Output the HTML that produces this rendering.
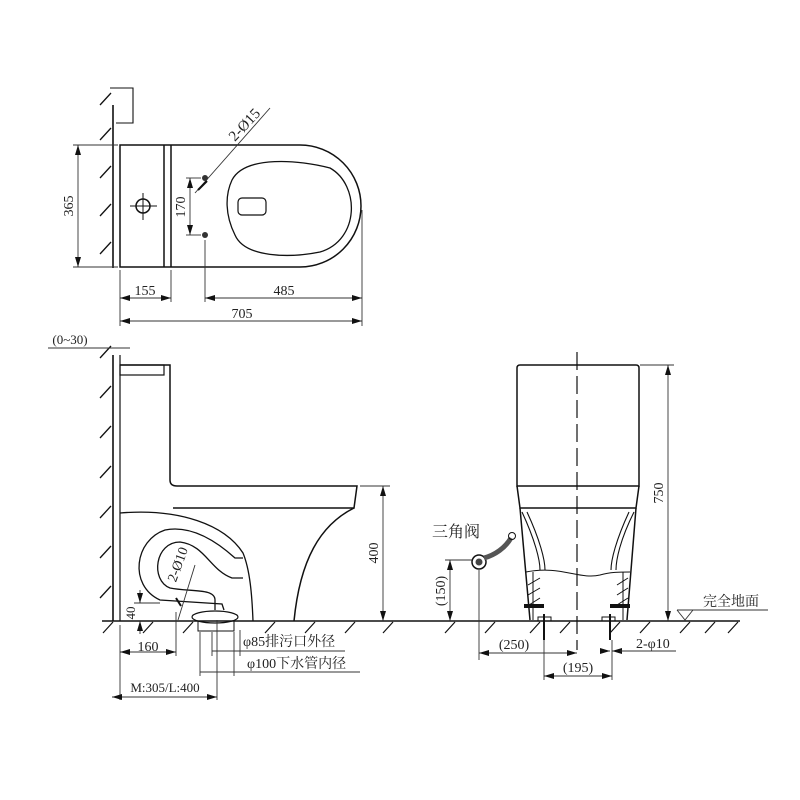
<!DOCTYPE html>
<html><head><meta charset="utf-8"><style>
html,body{margin:0;padding:0;background:#fff;width:800px;height:800px;overflow:hidden}
svg{display:block}
text{font-family:"Liberation Serif","Noto Serif CJK SC",serif;fill:#222}
</style></head><body>
<svg width="800" height="800" viewBox="0 0 800 800" xmlns="http://www.w3.org/2000/svg">
<defs>
<marker id="a" viewBox="0 0 10 6" refX="10" refY="3" markerWidth="10" markerHeight="6" orient="auto-start-reverse" markerUnits="userSpaceOnUse"><path d="M0,0L10,3L0,6z" fill="#111"/></marker>
</defs>
<g stroke="#111" fill="none" stroke-width="1.6">
<line x1="113" y1="105" x2="113" y2="268"/>
<line x1="113" y1="355" x2="113" y2="621"/>
<line x1="120" y1="355" x2="120" y2="621" stroke-width="1.2"/>
</g>
<g stroke="#111" stroke-width="1.3">
<line x1="100" y1="140" x2="111" y2="128"/><line x1="100" y1="178" x2="111" y2="166"/><line x1="100" y1="216" x2="111" y2="204"/><line x1="100" y1="254" x2="111" y2="242"/><line x1="100" y1="105" x2="111" y2="93"/>
<line x1="100" y1="358" x2="111" y2="346"/><line x1="100" y1="398" x2="111" y2="386"/><line x1="100" y1="438" x2="111" y2="426"/><line x1="100" y1="478" x2="111" y2="466"/><line x1="100" y1="518" x2="111" y2="506"/><line x1="100" y1="558" x2="111" y2="546"/><line x1="100" y1="598" x2="111" y2="586"/>
<line x1="102" y1="621" x2="740" y2="621" stroke-width="1.6"/>
</g>
<g stroke="#111" stroke-width="1.2">
<line x1="103" y1="633" x2="113" y2="622"/><line x1="143" y1="633" x2="153" y2="622"/><line x1="183" y1="633" x2="193" y2="622"/><line x1="265" y1="633" x2="275" y2="622"/><line x1="305" y1="633" x2="315" y2="622"/><line x1="345" y1="633" x2="355" y2="622"/><line x1="383" y1="633" x2="393" y2="622"/>
<line x1="445" y1="633" x2="455" y2="622"/><line x1="485" y1="633" x2="495" y2="622"/><line x1="530" y1="633" x2="540" y2="622"/><line x1="560" y1="633" x2="570" y2="622"/><line x1="610" y1="633" x2="620" y2="622"/><line x1="640" y1="633" x2="650" y2="622"/><line x1="680" y1="633" x2="690" y2="622"/><line x1="705" y1="633" x2="715" y2="622"/><line x1="728" y1="633" x2="738" y2="622"/>
</g>
<!-- TOP VIEW -->
<g stroke="#111" fill="none" stroke-width="1.5">
<polyline points="110,88 133,88 133,123 116,123" stroke-width="1.1"/>
<path d="M120,145 H300 A61,61 0 0 1 300,267 H120 Z"/>
<line x1="164" y1="145" x2="164" y2="267"/>
<line x1="171" y1="145" x2="171" y2="267"/>
<path d="M232,180 C245,155 300,160 330,168 C360,185 360,240 320,252 C290,258 245,258 235,235 C225,215 225,195 232,180 Z" stroke-width="1.3"/>
<rect x="238" y="198" width="28" height="17" rx="4" stroke-width="1.2"/>
<circle cx="143" cy="206" r="7"/>
<line x1="130" y1="206" x2="157" y2="206" stroke-width="1"/>
<line x1="143" y1="193" x2="143" y2="220" stroke-width="1"/>
</g>
<circle cx="205" cy="178" r="3" fill="#333"/><circle cx="205" cy="235" r="3" fill="#333"/>
<g stroke="#333" stroke-width="0.9" fill="none">
<line x1="270" y1="108" x2="195" y2="193"/>
<line x1="73" y1="145" x2="118" y2="145"/><line x1="73" y1="267" x2="118" y2="267"/>
<line x1="78" y1="145" x2="78" y2="267" marker-start="url(#a)" marker-end="url(#a)"/>
<line x1="186" y1="178" x2="201" y2="178"/><line x1="186" y1="235" x2="201" y2="235"/>
<line x1="190" y1="178" x2="190" y2="235" marker-start="url(#a)" marker-end="url(#a)"/>
<line x1="120" y1="270" x2="120" y2="326"/><line x1="171" y1="270" x2="171" y2="302"/><line x1="205" y1="240" x2="205" y2="302"/><line x1="362" y1="210" x2="362" y2="326"/>
<line x1="120" y1="298" x2="171" y2="298" marker-start="url(#a)" marker-end="url(#a)"/>
<line x1="205" y1="298" x2="362" y2="298" marker-start="url(#a)" marker-end="url(#a)"/>
<line x1="120" y1="321" x2="362" y2="321" marker-start="url(#a)" marker-end="url(#a)"/>
<line x1="48" y1="348" x2="130" y2="348"/>
</g>
<path d="M198,190 L207,181" stroke="#111" stroke-width="2"/>
<text x="0" y="0" font-size="14" transform="translate(73,206) rotate(-90)" text-anchor="middle">365</text>
<text x="0" y="0" font-size="14" transform="translate(185,207) rotate(-90)" text-anchor="middle">170</text>
<text x="0" y="0" font-size="15" transform="translate(248,128) rotate(-47)" text-anchor="middle">2-Ø15</text>
<text x="145" y="295" font-size="14" text-anchor="middle">155</text>
<text x="284" y="295" font-size="14" text-anchor="middle">485</text>
<text x="242" y="318" font-size="14" text-anchor="middle">705</text>
<text x="70" y="344" font-size="13" text-anchor="middle">(0~30)</text>
<!-- SIDE VIEW -->
<g stroke="#111" fill="none" stroke-width="1.5">
<rect x="120" y="365" width="44" height="10" stroke-width="1.2"/>
<path d="M120,365 H170 V480 Q170,486 177,486 H357 L354,508 H173" />
<path d="M120,513 C180,508 225,525 243,553 C250,570 252,595 253,621" stroke-width="1.3"/>
<path d="M354,508 C320,525 300,560 294,621"/>
<path d="M243,558 L235,558 C215,540 190,525 165,530 C135,540 128,585 160,600 L222,604 L224,610" stroke-width="1.3"/>
<path d="M243,578 L232,578 C210,570 205,545 180,542 C155,542 150,580 170,588 C190,592 215,588 215,600 L215,610" stroke-width="1.3"/>
<ellipse cx="215" cy="617" rx="23" ry="6" stroke-width="1.2"/>
<rect x="198" y="621" width="36" height="10" stroke-width="1"/>
</g>
<g stroke="#333" stroke-width="0.9" fill="none">
<line x1="360" y1="486" x2="390" y2="486"/>
<line x1="383" y1="486" x2="383" y2="621" marker-start="url(#a)" marker-end="url(#a)"/>
<line x1="134" y1="603" x2="160" y2="603"/>
<line x1="140" y1="590" x2="140" y2="603" marker-end="url(#a)"/><line x1="140" y1="634" x2="140" y2="621" marker-end="url(#a)"/>
<line x1="195" y1="565" x2="178" y2="620"/>
<line x1="120" y1="625" x2="120" y2="700"/><line x1="176" y1="612" x2="176" y2="656"/>
<line x1="120" y1="652" x2="176" y2="652" marker-start="url(#a)" marker-end="url(#a)"/>
<line x1="200" y1="632" x2="200" y2="676"/><line x1="212" y1="632" x2="212" y2="656"/><line x1="217" y1="620" x2="217" y2="700"/><line x1="234" y1="632" x2="234" y2="676"/><line x1="240" y1="630" x2="240" y2="656"/>
<line x1="212" y1="651" x2="240" y2="651"/><line x1="240" y1="651" x2="345" y2="651"/>
<line x1="200" y1="672" x2="234" y2="672"/><line x1="234" y1="672" x2="360" y2="672"/>
<line x1="112" y1="697" x2="217" y2="697" marker-start="url(#a)" marker-end="url(#a)"/>
</g>
<path d="M176,598 L181,606" stroke="#111" stroke-width="2"/>
<text x="0" y="0" font-size="14" transform="translate(378,553) rotate(-90)" text-anchor="middle">400</text>
<text x="0" y="0" font-size="13" transform="translate(135,613) rotate(-90)" text-anchor="middle">40</text>
<text x="0" y="0" font-size="14" transform="translate(182,566) rotate(-70)" text-anchor="middle">2-Ø10</text>
<text x="148" y="651" font-size="14" text-anchor="middle">160</text>
<text x="243" y="646" font-size="14">φ85排污口外径</text>
<text x="247" y="668" font-size="14">φ100下水管内径</text>
<text x="165" y="692" font-size="13" text-anchor="middle">M:305/L:400</text>
<!-- FRONT VIEW -->
<g stroke="#111" fill="none" stroke-width="1.5">
<path d="M517,368 Q517,365 520,365 H636 Q639,365 639,368 V486 H517 Z"/>
<path d="M517,486 L520,508 H636 L639,486"/>
<path d="M520,508 L530,620 M636,508 L627,620" />
<path d="M522,512 C535,540 540,560 540,570 M527,512 C540,540 545,560 545,570 M634,512 C620,540 616,560 616,570 M629,512 C616,540 611,560 611,570" stroke-width="1.1"/>
<path d="M526,572 C560,565 580,580 600,575 C610,572 620,572 630,572" stroke-width="1"/>
<path d="M533,572 V620 M623,572 V620" stroke-width="1"/>
</g>
<g stroke="#111" stroke-width="1">
<line x1="528" y1="585" x2="540" y2="578"/><line x1="528" y1="595" x2="540" y2="588"/><line x1="529" y1="605" x2="540" y2="598"/>
<line x1="617" y1="585" x2="628" y2="578"/><line x1="617" y1="595" x2="628" y2="588"/><line x1="617" y1="605" x2="628" y2="598"/>
</g>
<rect x="524" y="604" width="20" height="4" fill="#111"/><rect x="610" y="604" width="20" height="4" fill="#111"/>
<rect x="538" y="617" width="13" height="4" fill="none" stroke="#111"/><rect x="602" y="617" width="13" height="4" fill="none" stroke="#111"/>
<line x1="544" y1="614" x2="544" y2="640" stroke="#111" stroke-width="2"/><line x1="610" y1="614" x2="610" y2="640" stroke="#111" stroke-width="2"/>
<line x1="577" y1="352" x2="577" y2="650" stroke="#111" stroke-width="1.2" stroke-dasharray="18,6"/>
<circle cx="479" cy="562" r="7" fill="none" stroke="#111" stroke-width="1.5"/><circle cx="479" cy="562" r="3.5" fill="#444"/>
<path d="M484,558 C495,555 505,548 511,538" stroke="#555" stroke-width="5" fill="none"/>
<circle cx="512" cy="536" r="3.5" fill="none" stroke="#111"/>
<text x="432" y="537" font-size="16" font-family="Noto Sans CJK SC,sans-serif">三角阀</text>
<g stroke="#333" stroke-width="0.9" fill="none">
<line x1="640" y1="365" x2="674" y2="365"/>
<line x1="668" y1="365" x2="668" y2="621" marker-start="url(#a)" marker-end="url(#a)"/>
<line x1="445" y1="560" x2="472" y2="560"/>
<line x1="450" y1="560" x2="450" y2="621" marker-start="url(#a)" marker-end="url(#a)"/>
<line x1="479" y1="570" x2="479" y2="660"/>
<line x1="479" y1="653" x2="577" y2="653" marker-start="url(#a)" marker-end="url(#a)"/>
<line x1="544" y1="640" x2="544" y2="680"/><line x1="612" y1="640" x2="612" y2="680"/>
<line x1="544" y1="676" x2="612" y2="676" marker-start="url(#a)" marker-end="url(#a)"/>
<line x1="600" y1="651" x2="610" y2="651" marker-end="url(#a)"/><line x1="622" y1="651" x2="612" y2="651" marker-end="url(#a)"/>
<line x1="620" y1="651" x2="676" y2="651"/>
<line x1="677" y1="610" x2="768" y2="610"/>
<path d="M677,610 L685,620 L693,610"/>
</g>
<text x="0" y="0" font-size="14" transform="translate(663,493) rotate(-90)" text-anchor="middle">750</text>
<text x="0" y="0" font-size="14" transform="translate(445,591) rotate(-90)" text-anchor="middle">(150)</text>
<text x="514" y="649" font-size="14" text-anchor="middle">(250)</text>
<text x="578" y="672" font-size="14" text-anchor="middle">(195)</text>
<text x="636" y="648" font-size="14">2-φ10</text>
<text x="703" y="606" font-size="14" font-family="Noto Sans CJK SC,sans-serif">完全地面</text>
</svg>
</body></html>
